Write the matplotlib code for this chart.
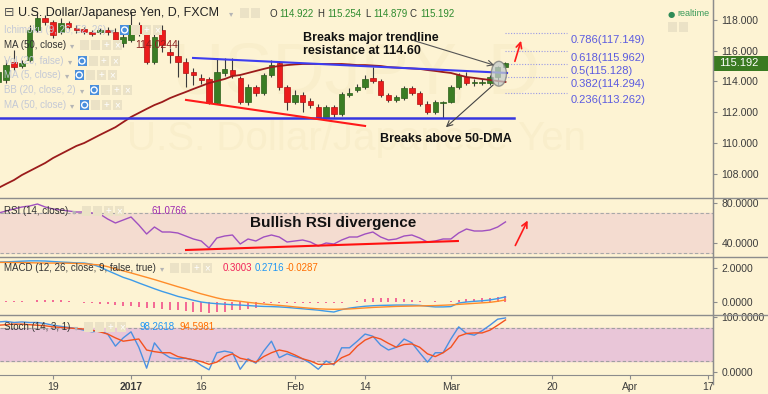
import numpy as np
import pandas as pd
import matplotlib
matplotlib.use("Agg")
import matplotlib.pyplot as plt
from matplotlib.patches import Rectangle, Ellipse

plt.rcParams['font.family'] = ['Liberation Sans', 'DejaVu Sans']

# USD/JPY daily bars, 8 Dec 2016 .. 10 Mar 2017 (FXCM feed, no bar on 2 Jan)
opens = [113.97, 114.10, 115.26, 115.00, 115.39, 117.32, 118.10,
         117.84, 117.19, 117.77, 117.45, 117.39, 117.19, 117.19, 117.32, 117.19, 116.48,
         116.68, 117.64, 117.13, 115.26, 117.32, 115.90, 115.64, 115.26, 114.61, 114.23,
         114.16, 112.61, 114.55, 114.74, 114.23, 112.68, 113.64, 113.26, 114.42, 115.19,
         113.64, 112.68, 113.13, 112.74, 112.35, 111.64, 112.35, 111.90, 113.13, 113.45,
         113.64, 114.23, 114.03, 113.13, 112.81, 112.94, 113.58, 113.26, 112.55, 112.03,
         112.61, 112.68, 113.64, 114.29, 113.90, 113.90, 113.90, 114.29, 114.922]
highs = [114.87, 115.39, 116.03, 115.39, 117.64, 118.35, 118.29,
         117.97, 118.10, 117.90, 117.64, 117.52, 117.32, 117.45, 117.52, 117.45, 117.13,
         118.48, 117.84, 117.32, 117.06, 117.64, 116.16, 116.68, 115.52, 114.87, 114.48,
         114.29, 115.52, 115.52, 115.52, 114.35, 113.84, 113.77, 114.55, 115.39, 115.32,
         113.77, 113.45, 113.32, 112.94, 112.55, 112.48, 112.48, 113.32, 113.58, 113.84,
         114.42, 114.93, 114.16, 113.26, 113.13, 113.71, 113.71, 113.39, 112.74, 112.81,
         112.74, 113.77, 114.55, 114.61, 114.16, 114.16, 114.42, 115.00, 115.254]
lows = [113.71, 113.90, 114.74, 114.87, 115.26, 117.19, 117.64,
        116.80, 117.06, 117.32, 117.13, 117.06, 116.93, 117.06, 117.00, 116.35, 116.23,
        116.55, 116.93, 115.13, 115.13, 115.90, 115.19, 114.29, 113.64, 113.77, 113.84,
        112.55, 112.55, 114.35, 114.23, 112.55, 112.48, 113.06, 113.13, 114.29, 113.45,
        112.16, 112.55, 112.03, 112.29, 111.58, 111.58, 111.71, 111.77, 113.00, 113.32,
        113.54, 113.90, 113.00, 112.68, 112.68, 112.81, 113.13, 112.42, 111.90, 111.90,
        111.64, 112.61, 113.54, 113.77, 113.71, 113.77, 113.77, 113.77, 114.879]
closes = [114.61, 115.06, 114.93, 115.19, 117.32, 118.10, 117.84,
          117.00, 117.77, 117.52, 117.32, 117.19, 117.06, 117.32, 117.19, 116.48, 116.87,
          117.64, 117.13, 115.26, 116.87, 116.35, 115.71, 115.26, 114.55, 114.42, 114.10,
          112.61, 114.61, 114.81, 114.42, 112.68, 113.64, 113.26, 114.42, 115.06, 113.64,
          112.68, 113.13, 112.68, 112.48, 111.64, 112.35, 111.90, 113.19, 113.26, 113.64,
          114.16, 114.03, 113.13, 112.81, 113.00, 113.58, 113.26, 112.55, 112.03, 112.68,
          112.68, 113.64, 114.42, 113.90, 113.97, 113.97, 114.29, 114.93, 115.192]
ma50 = [107.13, 107.39, 107.64, 107.96, 108.22, 108.48, 108.74,
        109.06, 109.32, 109.58, 109.84, 110.03, 110.29, 110.55, 110.80, 111.05, 111.38,
        111.71, 111.97, 112.23, 112.48, 112.68, 112.93, 113.13, 113.32, 113.52, 113.71,
        113.90, 114.03, 114.16, 114.35, 114.42, 114.55, 114.68, 114.81, 114.93, 115.00,
        115.06, 115.10, 115.13, 115.13, 115.13, 115.13, 115.13, 115.13, 115.10, 115.06,
        115.06, 115.03, 115.00, 114.93, 114.90, 114.87, 114.84, 114.81, 114.74, 114.68,
        114.61, 114.55, 114.42, 114.29, 114.23, 114.16, 114.10, 114.03, 113.97]
rsi = [70, 72, 74, 76, 77, 79, 76,
       74, 73, 72, 71, 71, 70, 69, 64, 60, 63,
       66, 58, 49, 56, 51, 51, 50, 47, 44, 42,
       35, 45, 47, 48, 39, 44, 42, 46, 48, 46,
       41, 42, 43, 41, 37, 40, 39, 43, 46, 46,
       49, 51, 46, 43, 44, 47, 48, 45, 41, 42,
       44, 44, 50, 54, 52, 52, 53, 56, 61.08]
macd_line = [2.35, 2.36, 2.38, 2.40, 2.42, 2.42, 2.41,
             2.38, 2.35, 2.33, 2.30, 2.29, 2.22, 2.06, 1.85, 1.65, 1.45,
             1.30, 1.12, 0.95, 0.78, 0.62, 0.48, 0.33, 0.22, 0.10, 0.00,
             -0.06, -0.10, -0.13, -0.16, -0.18, -0.21, -0.24, -0.26, -0.27, -0.29,
             -0.32, -0.36, -0.40, -0.44, -0.48, -0.54, -0.59, -0.45, -0.36, -0.30,
             -0.25, -0.22, -0.20, -0.19, -0.18, -0.18, -0.18, -0.20, -0.25, -0.29,
             -0.29, -0.27, -0.06, 0.00, 0.04, 0.07, 0.12, 0.20, 0.30]
signal_line = [2.33, 2.33, 2.32, 2.32, 2.31, 2.30, 2.29,
               2.29, 2.29, 2.28, 2.27, 2.25, 2.21, 2.18, 2.08, 1.95, 1.83,
               1.71, 1.58, 1.45, 1.32, 1.18, 1.04, 0.90, 0.77, 0.62, 0.48,
               0.36, 0.24, 0.14, 0.09, 0.04, -0.02, -0.07, -0.12, -0.16, -0.20,
               -0.24, -0.29, -0.33, -0.37, -0.40, -0.42, -0.43, -0.42, -0.41, -0.38,
               -0.35, -0.32, -0.30, -0.28, -0.26, -0.25, -0.24, -0.23, -0.22, -0.21,
               -0.19, -0.17, -0.14, -0.11, -0.08, -0.05, -0.02, 0.04, 0.12]
macd_hist = [0.0, 0.03, 0.03, 0.03, 0.0, 0.12, 0.12,
             0.12, 0.10, 0.03, 0.0, -0.05, -0.08, -0.10, -0.14, -0.18, -0.22,
             -0.26, -0.30, -0.34, -0.38, -0.42, -0.46, -0.50, -0.54, -0.57, -0.60,
             -0.62, -0.60, -0.56, -0.50, -0.45, -0.40, -0.33, -0.08, -0.07, -0.06,
             -0.06, -0.07, -0.07, -0.07, -0.07, -0.06, -0.05, -0.03, 0.0, 0.03,
             0.15, 0.22, 0.25, 0.25, 0.22, 0.18, 0.14, 0.06, 0.0, 0.03,
             0.0, 0.05, 0.10, 0.15, 0.18, 0.21, 0.24, 0.28, 0.34]
stoch_k = [91, 92, 90, 91, 90, 90, 88,
           85, 83, 81, 79, 76, 73, 75, 69, 47, 62,
           73, 45, 7, 53, 35, 26, 24, 25, 22, 12,
           4, 35, 38, 35, 5, 24, 16, 38, 56, 26,
           33, 28, 24, 16, 5, 20, 13, 44, 44, 56,
           69, 65, 49, 40, 45, 60, 53, 35, 18, 35,
           35, 60, 82, 70, 67, 75, 85, 96, 98.26]
stoch_d = [85, 86, 87, 87, 86, 85, 84,
           82, 81, 80, 79, 78, 76, 73, 69, 62, 56,
           58, 60, 40, 37, 35, 35, 28, 25, 22, 19,
           14, 18, 28, 33, 25, 22, 18, 28, 35, 40,
           37, 31, 24, 20, 14, 14, 15, 26, 32, 47,
           58, 64, 60, 52, 45, 50, 51, 45, 33, 28,
           35, 45, 65, 70, 71, 71, 76, 85, 94.60]

dates = pd.bdate_range('2016-12-08', '2017-04-21')
dates = dates[dates != pd.Timestamp('2017-01-02')]
tick_dates = ['2016-12-19', '2017-01-03', '2017-01-16', '2017-02-01', '2017-02-14',
              '2017-03-01', '2017-03-20', '2017-04-03', '2017-04-17']
tick_labels = ['19', '2017', '16', 'Feb', '14', 'Mar', '20', 'Apr', '17']

fib_ratios = ['0.786', '0.618', '0.5', '0.382', '0.236']
fib_prices = [117.149, 115.962, 115.128, 114.294, 113.262]

# hand drawn lines of the analyst (bar position, value)
upper_trend = ([24.95, 65.2], [115.52, 114.55])
lower_trend = ([24.05, 47.0], [112.81, 111.13])
support_level, support_end = 111.62, 66.1
rsi_trend = ([24.05, 58.9], [33, 42])

BG = '#fdf3d3'
W, H = 768, 394
GREEN, RED = '#3a7d24', '#ec1c1c'

fig = plt.figure(figsize=(W / 100, H / 100), dpi=100)
fig.patch.set_facecolor(BG)


def frect(x0, y0, x1, y1):
    return [x0 / W, 1 - y1 / H, (x1 - x0) / W, (y1 - y0) / H]


ax_p = fig.add_axes(frect(0, 0, 713, 198))
ax_r = fig.add_axes(frect(0, 198, 713, 257), sharex=ax_p)
ax_m = fig.add_axes(frect(0, 257, 713, 315), sharex=ax_p)
ax_s = fig.add_axes(frect(0, 315, 713, 375), sharex=ax_p)

for ax in (ax_p, ax_r, ax_m, ax_s):
    ax.set_facecolor(BG)
    for side in ('top', 'bottom', 'left'):
        ax.spines[side].set_visible(False)
    ax.spines['right'].set_color('#8c8c8c')
    ax.yaxis.tick_right()
    ax.tick_params(axis='y', length=3, color='#8c8c8c', labelsize=7.5, labelcolor='#3c3c3c', pad=3)
    ax.tick_params(axis='x', bottom=False, labelbottom=False)

x = np.arange(len(closes))
o, h, l, c = map(np.array, (opens, highs, lows, closes))
ax_p.set_xlim(0.205, 91.6)

# ---- price pane ----
ax_p.set_ylim(106.48, 119.26)
ax_p.set_yticks(np.arange(108, 119, 2))
ax_p.set_yticklabels([f'{v:.3f}' for v in np.arange(108, 119, 2)])
# faint symbol watermark
ax_p.text(0.5, 0.62, 'USDJPY, D', transform=ax_p.transAxes, ha='center', va='center',
          fontsize=52, color='#f9eecb', zorder=0)
ax_p.text(0.5, 0.30, 'U.S. Dollar/Japanese Yen', transform=ax_p.transAxes, ha='center',
          va='center', fontsize=29, color='#f9eecb', zorder=0)

up = c >= o
ax_p.vlines(x, l, h, color='#3a3a3a', lw=0.8, zorder=3)
ax_p.bar(x, np.maximum(np.abs(c - o), 0.04), bottom=np.minimum(o, c), width=0.7,
         color=np.where(up, GREEN, RED), edgecolor=np.where(up, '#2b5e1a', '#b01212'),
         lw=0.5, zorder=4)
ax_p.plot(x, ma50, color='#9b1b1b', lw=1.3, zorder=5)
ax_p.plot([0, support_end], [support_level] * 2, color='#3636e0', lw=1.8, zorder=5)
ax_p.plot(*upper_trend, color='#3d3df0', lw=1.5, zorder=6)
ax_p.plot(*lower_trend, color='#ff1a1a', lw=1.5, zorder=6)

for r, v in zip(fib_ratios, fib_prices):
    ax_p.plot([64.95, 72.9], [v, v], ls=(0, (1, 1.5)), color='#9a9ae6', lw=0.8, zorder=2)
    ax_p.annotate(f'{r}({v:.3f})', xy=(73.4, v), xytext=(0, -7), textcoords='offset pixels',
                  va='center', ha='left', fontsize=8, color='#5b5be0')

ax_p.add_patch(Ellipse((64.15, 114.5), 1.95, 1.6, facecolor='#c4cccc', alpha=0.75,
                       edgecolor='#7a7a7a', lw=1, zorder=7))
ax_p.annotate('', xy=(63.9, 115.0), xytext=(53.0, 116.68),
              arrowprops=dict(arrowstyle='->', color='#555555', lw=0.8), zorder=8)
ax_p.annotate('', xy=(57.1, 110.93), xytext=(63.7, 113.9),
              arrowprops=dict(arrowstyle='->', color='#444444', lw=0.8), zorder=8)
ax_p.annotate('', xy=(67.1, 116.8), xytext=(66.1, 115.13),
              arrowprops=dict(arrowstyle='->', color='#ff1a1a', lw=1.2), zorder=8)
ax_p.text(39.05, 116.39, 'Breaks major trendline\nresistance at 114.60', ha='left',
          va='center', fontsize=9, fontweight='bold', color='#111111', linespacing=1.05, zorder=9)
ax_p.text(57.4, 110.29, 'Breaks above 50-DMA', ha='center', va='center', fontsize=9,
          fontweight='bold', color='#111111', zorder=9)

# ---- RSI pane ----
ax_r.set_ylim(26, 85)
ax_r.set_yticks([40, 80])
ax_r.set_yticklabels(['40.0000', '80.0000'])
ax_r.axhspan(30, 70, color='#f4dcd0', zorder=0)
for lvl in (30, 70):
    ax_r.axhline(lvl, color='#a8a8a8', lw=0.8, ls=(0, (3, 2)), zorder=1)
ax_r.plot(x, rsi, color='#a050c0', lw=1.0, zorder=3)
ax_r.plot(*rsi_trend, color='#ff1010', lw=1.5, zorder=4)
ax_r.annotate('', xy=(68.0, 65), xytext=(66.1, 35),
              arrowprops=dict(arrowstyle='->', color='#ff1a1a', lw=1.2))
ax_r.text(42.9, 60, 'Bullish RSI divergence', ha='center', va='center', fontsize=11,
          fontweight='bold', color='#111111', zorder=5)

# ---- MACD pane ----
ax_m.set_ylim(-0.765, 2.647)
ax_m.set_yticks([0, 2])
ax_m.set_yticklabels(['0.0000', '2.0000'])
ax_m.vlines(x, 0, macd_hist, color='#f2508a', lw=1.2, zorder=2)
ax_m.plot(x, macd_line, color='#3d9be9', lw=1.0, zorder=3)
ax_m.plot(x, signal_line, color='#ff8c2a', lw=1.0, zorder=3)

# ---- Stochastic pane ----
ax_s.set_ylim(-5.45, 103.6)
ax_s.set_yticks([0, 100])
ax_s.set_yticklabels(['0.0000', '100.0000'])
ax_s.axhspan(20, 80, color='#e9c6d8', zorder=0)
for lvl in (20, 80):
    ax_s.axhline(lvl, color='#a0a0a0', lw=0.8, ls=(0, (3, 2)), zorder=1)
ax_s.plot(x, stoch_k, color='#4a90e2', lw=1.0, zorder=3)
ax_s.plot(x, stoch_d, color='#f4511e', lw=1.0, zorder=3)

ax_s.spines['bottom'].set_visible(True)
ax_s.spines['bottom'].set_color('#8c8c8c')
ax_s.tick_params(axis='x', bottom=True, labelbottom=True, length=3, color='#8c8c8c',
                 labelsize=7.5, labelcolor='#3c3c3c', pad=2)
ax_s.set_xticks([dates.get_loc(pd.Timestamp(d)) for d in tick_dates])
ax_s.set_xticklabels(tick_labels)
for lab in ax_s.get_xticklabels():
    if lab.get_text() == '2017':
        lab.set_fontweight('bold')

# ---- pane dividers and price tag ----
for yy in (198, 257, 315):
    fig.add_artist(plt.Line2D([0, 1], [1 - yy / H] * 2, transform=fig.transFigure,
                              color='#8c8c8c', lw=1))
fig.add_artist(plt.Line2D([713 / W] * 2, [1 - 384 / H, 1], transform=fig.transFigure,
                          color='#8c8c8c', lw=1))
fig.add_artist(Rectangle((714 / W, 1 - 71 / H), 54 / W, 15 / H, transform=fig.transFigure,
                         facecolor='#3a7a22', edgecolor='none'))
fig.text(719 / W, 1 - 63.5 / H, f'{closes[-1]:.3f}', color='white', fontsize=8,
         va='center', ha='left')


# ---- header and indicator legends ----
def px_text(px, py, s, **kw):
    return fig.text(px / W, 1 - py / H, s, va='center', ha='left', **kw)


def buttons(bx, by, n, eye=False):
    for k in range(n):
        x0 = bx + k * 11
        fc = '#4a8fdc' if (eye and k == 0) else '#ebe2c6'
        fig.add_artist(Rectangle((x0 / W, 1 - (by + 5) / H), 9 / W, 10 / H,
                                 transform=fig.transFigure, facecolor=fc, edgecolor='none'))
        if eye and k == 0:
            fig.add_artist(Ellipse(((x0 + 4.5) / W, 1 - by / H), 6 / W, 6 / H,
                                   transform=fig.transFigure, fill=False, edgecolor='white', lw=1))
        elif k >= 2:
            px_text(x0 + 1.5, by, '+' if k == 2 else '×', fontsize=7, color='white')


fig.canvas.draw()
renderer = fig.canvas.get_renderer()


def legend_row(py, label, color, eye=False, n=4):
    t = px_text(4, py, label, fontsize=7, color=color)
    x1 = t.get_window_extent(renderer).x1
    px_text(x1 + 4, py + 1, '▾', fontsize=6, color='#b5b5b5', family='DejaVu Sans')
    buttons(x1 + 14, py, n, eye)


px_text(4, 13, '⊟', fontsize=9, color='#555555', family='DejaVu Sans')
px_text(18, 13, 'U.S. Dollar/Japanese Yen, D, FXCM', fontsize=9, color='#222222')
px_text(229, 14, '▾', fontsize=6, color='#b5b5b5', family='DejaVu Sans')
buttons(240, 13, 2)
ohlc_keys = ['O', 'H', 'L', 'C']
ohlc_vals = [opens[-1], highs[-1], lows[-1], closes[-1]]
ohlc_x = [269, 317, 365, 410]
for key, val, px in zip(ohlc_keys, ohlc_vals, ohlc_x):
    t = px_text(px, 14, key, fontsize=7, color='#333333')
    px_text(t.get_window_extent(renderer).x1 + 3, 14, f'{val:.3f}', fontsize=7, color='#2e8b2e')

px_text(668, 14, '●', fontsize=6, color='#2e8b57', family='DejaVu Sans')
px_text(677, 14, 'realtime', fontsize=6.5, color='#3a9a5a')
buttons(668, 27, 2)

faint = '#c4c9d6'
legend_row(30, 'Ichimoku (9, 26, 52, 26)', faint, eye=True)
legend_row(45, 'MA (50, close)', '#333333')
px_text(135, 45, '114.0244', fontsize=7.5, color='#8b1f1f')
legend_row(61, 'Vol (20, false)', faint, eye=True)
legend_row(75, 'MA (5, close)', faint, eye=True)
legend_row(90, 'BB (20, close, 2)', faint, eye=True)
legend_row(105, 'MA (50, close)', faint, eye=True)

legend_row(211, 'RSI (14, close)', '#333333')
px_text(151, 211, '61.0766', fontsize=7, color='#9c27b0')
legend_row(268, 'MACD (12, 26, close, 9, false, true)', '#333333')
px_text(223, 268, '0.3003', fontsize=7, color='#f0245a')
px_text(255, 268, '0.2716', fontsize=7, color='#2196f3')
px_text(286, 268, '-0.0287', fontsize=7, color='#ff6d00')
legend_row(327, 'Stoch (14, 3, 1)', '#333333')
px_text(140, 327, '98.2618', fontsize=7, color='#2196f3')
px_text(179, 327, '94.5981', fontsize=7, color='#ff6d00')

fig.savefig('out.png', dpi=100, facecolor=BG)
